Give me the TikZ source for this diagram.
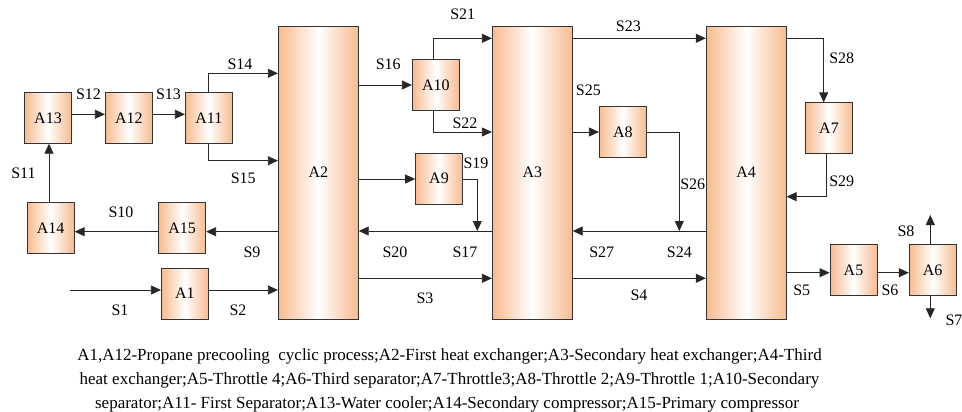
\documentclass[tikz,border=0pt]{standalone}
\usepackage{fontspec}
\setmainfont{Liberation Serif}
\newfontfamily\tnr{Liberation Serif}
\usetikzlibrary{arrows.meta}
\definecolor{peach}{RGB}{247,187,142}
\tikzset{
  box/.style={draw=black!80, line width=0.8pt, left color=peach, right color=peach, middle color=white,
    minimum width=47pt, minimum height=51pt, inner sep=0pt, font=\tnr\fontsize{16}{18}\selectfont},
  tall/.style={box, minimum width=80pt, minimum height=292.7pt},
  lbl/.style={inner sep=0pt, font=\tnr\fontsize{16}{18}\selectfont},
  captext/.style={inner sep=0pt, anchor=base, font=\tnr\fontsize{17}{19}\selectfont},
  arr/.style={draw=black!85, line width=0.8pt, -{Triangle[length=10pt,width=9pt]}}
}
\begin{document}
\begin{tikzpicture}[x=1pt,y=-1pt]
\useasboundingbox (0,0) rectangle (962,412);
% boxes
\node[box] (A13) at (48,117.8) {A13};
\node[box] (A12) at (128.8,117.8) {A12};
\node[box] (A11) at (208.8,117.8) {A11};
\node[box] (A14) at (50.7,227.8) {A14};
\node[box] (A15) at (182.2,227.8) {A15};
\node[box] (A1) at (184.8,293.5) {A1};
\node[tall] (A2) at (318.3,172.7) {A2};
\node[tall] (A3) at (532.3,172.7) {A3};
\node[tall] (A4) at (746.2,172.7) {A4};
\node[box] (A10) at (435.8,84.8) {A10};
\node[box] (A9) at (439,178.7) {A9};
\node[box] (A8) at (622.8,132) {A8};
\node[box] (A7) at (829,128.3) {A7};
\node[box] (A5) at (853.5,270) {A5};
\node[box] (A6) at (932.7,270) {A6};
% helper coordinates
\coordinate (s1) at (70,290);
\coordinate (y9) at (0,231.7);
\coordinate (x11) at (49,0);
\coordinate (y12) at (0,114.3);
\coordinate (y14) at (0,73.3);
\coordinate (y15) at (0,160.7);
\coordinate (y16) at (0,85);
\coordinate (x10) at (433.3,0);
\coordinate (y21) at (0,38.3);
\coordinate (y22) at (0,132);
\coordinate (y9b) at (0,179);
\coordinate (x19) at (477.3,0);
\coordinate (y20) at (0,231);
\coordinate (y3) at (0,278.3);
\coordinate (x26) at (679.3,0);
\coordinate (x28) at (823.7,0);
\coordinate (x29) at (826,0);
\coordinate (y29) at (0,196.7);
\coordinate (y5) at (0,272.7);
\coordinate (s8) at (930.3,215);
\coordinate (s7) at (930.3,318.3);
% connectors
\draw[arr] (s1) -- (s1 -| A1.west);
\draw[arr] (A1.east |- s1) -- (A2.west |- s1);
\draw[arr] (A2.west |- y9) -- (A15.east |- y9);
\draw[arr] (A15.west |- y9) -- (A14.east |- y9);
\draw[arr] (x11 |- A14.north) -- (x11 |- A13.south);
\draw[arr] (A13.east |- y12) -- (A12.west |- y12);
\draw[arr] (A12.east |- y12) -- (A11.west |- y12);
\draw[arr] (A11.north) |- (A2.west |- y14);
\draw[arr] (A11.south) |- (A2.west |- y15);
\draw[arr] (A2.east |- y16) -- (A10.west |- y16);
\draw[arr] (x10 |- A10.north) |- (A3.west |- y21);
\draw[arr] (x10 |- A10.south) |- (A3.west |- y22);
\draw[arr] (A2.east |- y9b) -- (A9.west |- y9b);
\draw[arr] (A9.east |- y9b) -| (x19 |- y20);
\draw[arr] (A3.west |- y20) -- (A2.east |- y20);
\draw[arr] (A2.east |- y3) -- (A3.west |- y3);
\draw[arr] (A3.east |- y21) -- (A4.west |- y21);
\draw[arr] (A3.east |- y22) -- (A8.west |- y22);
\draw[arr] (A8.east |- y22) -| (x26 |- y20);
\draw[arr] (A4.west |- y20) -- (A3.east |- y20);
\draw[arr] (A3.east |- y3) -- (A4.west |- y3);
\draw[arr] (A4.east |- y21) -| (x28 |- A7.north);
\draw[arr] (x29 |- A7.south) |- (A4.east |- y29);
\draw[arr] (A4.east |- y5) -- (A5.west |- y5);
\draw[arr] (A5.east |- y5) -- (A6.west |- y5);
\draw[arr] (s8 |- A6.north) -- (s8);
\draw[arr] (s7 |- A6.south) -- (s7);
% stream labels
\node[lbl] (lS1) at (120,310) {S1};
\node[lbl] (lS2) at (238,310) {S2};
\node[lbl] (lS3) at (425,298) {S3};
\node[lbl] (lS4) at (639,295) {S4};
\node[lbl] (lS5) at (801.7,290) {S5};
\node[lbl] (lS6) at (890,290) {S6};
\node[lbl] (lS7) at (954,320) {S7};
\node[lbl] (lS8) at (906,231) {S8};
\node[lbl] (lS9) at (252,252) {S9};
\node[lbl] (lS10) at (121,212) {S10};
\node[lbl] (lS11) at (23.5,173) {S11};
\node[lbl] (lS12) at (88.5,94.5) {S12};
\node[lbl] (lS13) at (168.5,94.5) {S13};
\node[lbl] (lS14) at (240,64) {S14};
\node[lbl] (lS15) at (243.3,178.3) {S15};
\node[lbl] (lS16) at (388.3,64) {S16};
\node[lbl] (lS17) at (465,252) {S17};
\node[lbl] (lS19) at (476,163.3) {S19};
\node[lbl] (lS20) at (395,252) {S20};
\node[lbl] (lS21) at (462.7,14) {S21};
\node[lbl] (lS22) at (465,123.3) {S22};
\node[lbl] (lS23) at (628.3,26) {S23};
\node[lbl] (lS24) at (679.3,252) {S24};
\node[lbl] (lS25) at (588.3,90.7) {S25};
\node[lbl] (lS26) at (692.7,184) {S26};
\node[lbl] (lS27) at (601.7,252) {S27};
\node[lbl] (lS28) at (841.7,58.3) {S28};
\node[lbl] (lS29) at (841.7,181) {S29};
% caption
\node[captext] (c1) at (449.5,360.7) {A1,A12-Propane precooling\ \ cyclic process;A2-First heat exchanger;A3-Secondary heat exchanger;A4-Third};
\node[captext] (c2) at (449.5,384.5) {heat exchanger;A5-Throttle 4;A6-Third separator;A7-Throttle3;A8-Throttle 2;A9-Throttle 1;A10-Secondary};
\node[captext] (c3) at (447,408) {separator;A11- First Separator;A13-Water cooler;A14-Secondary compressor;A15-Primary compressor};
\end{tikzpicture}
\end{document}
